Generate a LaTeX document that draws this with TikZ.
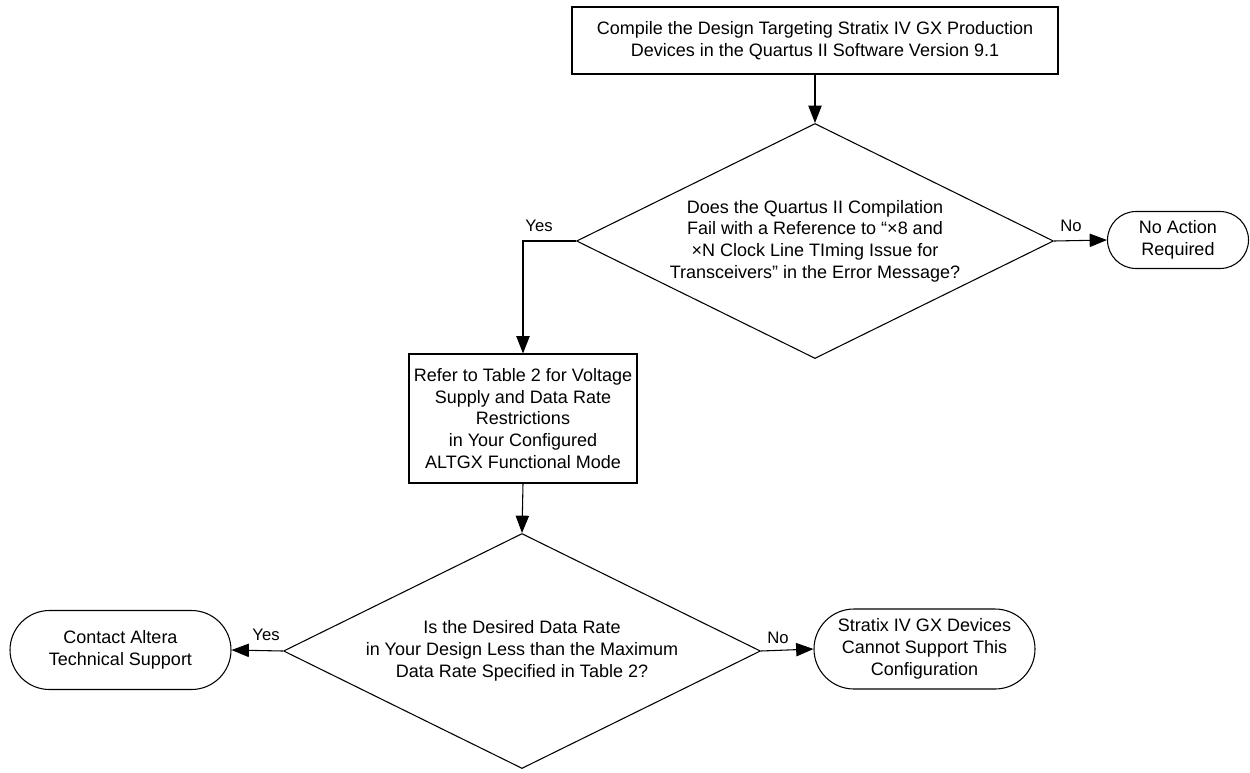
\documentclass[tikz,border=0pt]{standalone}
\usepackage{fontspec}
\setmainfont{Liberation Sans}
\usetikzlibrary{shapes.geometric,shapes.misc,arrows.meta}

\begin{document}
\begin{tikzpicture}[x=0.75pt,y=0.75pt,yscale=-1,xscale=1,
  every node/.style={font=\fontsize{13.5}{16.3}\selectfont, align=center, inner sep=0pt},
  flowbox/.style={draw, line width=0.8pt, rectangle},
  decision/.style={draw, line width=0.8pt, diamond, shape aspect=2.03, minimum width=357.75pt, minimum height=176.25pt},
  endbox/.style={draw, line width=0.8pt, rounded rectangle},
  flowarrow/.style={line width=0.8pt, -{Triangle[length=13pt,width=10pt]}},
  flowlabel/.style={font=\fontsize{12.5}{15}\selectfont}]
\useasboundingbox (0,0) rectangle (1250,772);

%Shape: Rectangle [compile]
\node [flowbox, minimum width=364.5pt, minimum height=50.25pt] (compile) at (815,40.5) {Compile the Design Targeting Stratix IV GX Production\\ Devices in the Quartus II Software Version 9.1};
%Shape: Diamond [failcheck]
\node [decision] (failcheck) at (815,241) {Does the Quartus II Compilation\\ Fail with a Reference to “×8 and\\ ×N Clock Line TIming Issue for\\ Transceivers” in the Error Message?};
%Shape: Terminator [noaction]
\node [endbox, minimum width=105.75pt, minimum height=42.75pt] (noaction) at (1178,240) {No Action\\ Required};
%Shape: Rectangle [refertable]
\node [flowbox, minimum width=171pt, minimum height=96.75pt] (refertable) at (523,418.5) {Refer to Table 2 for Voltage\\ Supply and Data Rate\\ Restrictions\\ in Your Configured\\ ALTGX Functional Mode};
%Shape: Diamond [ratecheck]
\node [decision] (ratecheck) at (522,651) {Is the Desired Data Rate\\ in Your Design Less than the Maximum\\ Data Rate Specified in Table 2?};
%Shape: Terminator [contact]
\node [endbox, minimum width=165.75pt, minimum height=59.25pt] (contact) at (120.5,650) {Contact Altera\\ Technical Support};
%Shape: Terminator [nosupport]
\node [endbox, minimum width=165.75pt, minimum height=60pt] (nosupport) at (924.5,649) {Stratix IV GX Devices\\ Cannot Support This\\ Configuration};

%Straight Lines
\draw [flowarrow] (compile.south) -- (failcheck.north);
\draw [flowarrow] (failcheck.west) -| (refertable.north);
\draw [flowarrow] (failcheck.east) -- (noaction.west);
\draw [flowarrow] (refertable.south) -- (ratecheck.north);
\draw [flowarrow] (ratecheck.west) -- (contact.east);
\draw [flowarrow] (ratecheck.east) -- (nosupport.west);

% Text Node
\node [flowlabel] (yesfail) at (539,226) {Yes};
% Text Node
\node [flowlabel] (nofail) at (1071,226) {No};
% Text Node
\node [flowlabel] (yesrate) at (266,635) {Yes};
% Text Node
\node [flowlabel] (norate) at (778,638) {No};

\end{tikzpicture}
\end{document}
